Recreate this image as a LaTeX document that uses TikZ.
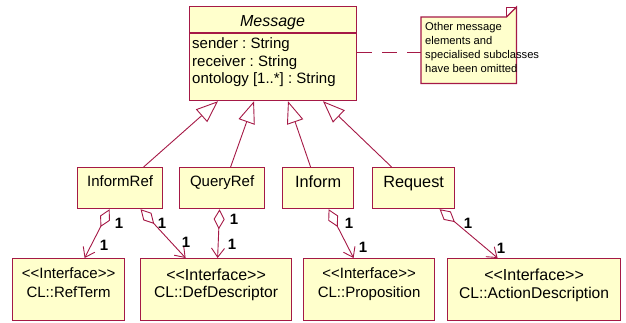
\documentclass[tikz,border=0pt]{standalone}
\usepackage{fontspec}
\setmainfont{Liberation Sans}
\usetikzlibrary{arrows.meta}
\definecolor{umlline}{RGB}{165,25,70}
\definecolor{umlfill}{RGB}{255,255,204}
\frenchspacing
\begin{document}
\begin{tikzpicture}[x=1pt,y=-1pt,
  box/.style={draw=umlline, fill=umlfill, line width=1.2pt, inner sep=0pt, anchor=north west},
  conn/.style={draw=umlline, line width=0.9pt},
  gen/.style={conn, -{Triangle[open,length=22pt,width=17pt]}},
  agg/.style={conn, {Diamond[open,length=20pt,width=11pt]}-{Straight Barb[length=9pt,width=13pt]}},
  mult/.style={font=\fontsize{15}{15}\selectfont\bfseries, inner sep=0pt},
  lbl/.style={inner sep=0pt, anchor=base},
  attr/.style={inner sep=0pt, anchor=base west, font=\fontsize{15}{15}\selectfont}
]
\useasboundingbox (0,0) rectangle (626,322);

% Message class
\node[box, minimum width=167pt, minimum height=94pt] (msg) at (189,6) {};
\draw[umlline, line width=1.2pt] (msg.west |- 0,33) -- (msg.east |- 0,33);
\node[lbl, font=\fontsize{16}{16}\selectfont\itshape] (msgtitle) at (272.5,26) {Message};
\node[attr] (a1) at (192,48) {sender : String};
\node[attr] (a2) at (192,66) {receiver : String};
\node[attr] (a3) at (192,83) {ontology [1..*] : String};

% Note
\node[inner sep=0pt, minimum width=95pt, minimum height=66pt, anchor=north west] (note) at (421,17) {};
\draw[umlline, line width=1.2pt, fill=umlfill]
  (note.north west) -- ([xshift=-10pt]note.north east) -- ([yshift=10pt]note.north east)
  -- (note.south east) -- (note.south west) -- cycle;
\draw[umlline, line width=0.8pt]
  ([xshift=-10pt]note.north east) -- ([xshift=-10pt,yshift=10pt]note.north east) -- ([yshift=10pt]note.north east);
\node[inner sep=0pt, anchor=north west, align=left, font=\fontsize{11.2}{14}\selectfont] (notetext) at (425,22)
  {Other message\\elements and\\specialised subclasses\\have been omitted};
\draw[conn, dash pattern=on 15pt off 10pt] ([yshift=1pt]msg.east) -- ([yshift=1pt]msg.east -| note.west);

% Subclasses
\node[box, minimum width=85pt, minimum height=41pt] (informref) at (77,167) {};
\node[box, minimum width=85pt, minimum height=41pt] (queryref) at (179,167) {};
\node[box, minimum width=71pt, minimum height=41pt] (inform) at (282,167) {};
\node[box, minimum width=82pt, minimum height=41pt] (request) at (372,167) {};
\node[lbl, font=\fontsize{15}{15}\selectfont] (t1) at (informref.center |- 0,186) {InformRef};
\node[lbl, font=\fontsize{15}{15}\selectfont] (t2) at (queryref.center |- 0,186) {QueryRef};
\node[lbl, font=\fontsize{16.3}{16}\selectfont] (t3) at (inform.center |- 0,187) {Inform};
\node[lbl, font=\fontsize{16.3}{16}\selectfont] (t4) at (request.center |- 0,187) {Request};

% Interfaces
\node[box, minimum width=112pt, minimum height=62pt] (refterm) at (12,258) {};
\node[box, minimum width=151pt, minimum height=62pt] (defdesc) at (140,258) {};
\node[box, minimum width=131pt, minimum height=62pt] (prop) at (303,258) {};
\node[box, minimum width=173pt, minimum height=62pt] (actdesc) at (447,258) {};
\node[lbl, font=\fontsize{15}{15}\selectfont] (i1) at (refterm.center |- 0,278) {<{}<Interface>{}>};
\node[lbl, font=\fontsize{15}{15}\selectfont] (c1) at (refterm.center |- 0,297.5) {CL::RefTerm};
\node[lbl, font=\fontsize{16}{16}\selectfont] (i2) at (defdesc.center |- 0,280) {<{}<Interface>{}>};
\node[lbl, font=\fontsize{15.6}{16}\selectfont] (c2) at (defdesc.center |- 0,297.5) {CL::DefDescriptor};
\node[lbl, font=\fontsize{15}{15}\selectfont] (i3) at (prop.center |- 0,278) {<{}<Interface>{}>};
\node[lbl, font=\fontsize{15}{15}\selectfont] (c3) at (prop.center |- 0,297.5) {CL::Proposition};
\node[lbl, font=\fontsize{16}{16}\selectfont] (i4) at (actdesc.center |- 0,280.5) {<{}<Interface>{}>};
\node[lbl, font=\fontsize{15.6}{16}\selectfont] (c4) at (actdesc.center |- 0,298) {CL::ActionDescription};

% Generalizations
\draw[gen] ([xshift=23.5pt]informref.north) -- ([xshift=29pt]msg.south west);
\draw[gen] ([xshift=8.5pt]queryref.north) -- ([xshift=65pt]msg.south west);
\draw[gen] ([xshift=-7.5pt]inform.north) -- ([xshift=99pt]msg.south west);
\draw[gen] ([xshift=-22pt]request.north) -- ([xshift=134pt]msg.south west);

% Aggregations
\draw[agg] ([xshift=-10.5pt]informref.south) -- ([xshift=16pt]refterm.north);
\draw[agg] ([xshift=20.5pt]informref.south) -- ([xshift=-30.5pt]defdesc.north);
\draw[agg] ([xshift=-2.5pt]queryref.south) -- ([xshift=1.5pt]defdesc.north);
\draw[agg] ([xshift=10.5pt]inform.south) -- ([xshift=-15.5pt]prop.north);
\draw[agg] ([xshift=26pt]request.south) -- ([xshift=-36.5pt]actdesc.north);

% Multiplicities
\node[mult] (m1a) at (119,223) {1};
\node[mult] (m1b) at (104,245) {1};
\node[mult] (m2a) at (162,223) {1};
\node[mult] (m2b) at (186,242) {1};
\node[mult] (m3a) at (234,219) {1};
\node[mult] (m3b) at (232,244) {1};
\node[mult] (m4a) at (349,223) {1};
\node[mult] (m4b) at (363,247) {1};
\node[mult] (m5a) at (468,223) {1};
\node[mult] (m5b) at (501,248) {1};
\end{tikzpicture}
\end{document}
